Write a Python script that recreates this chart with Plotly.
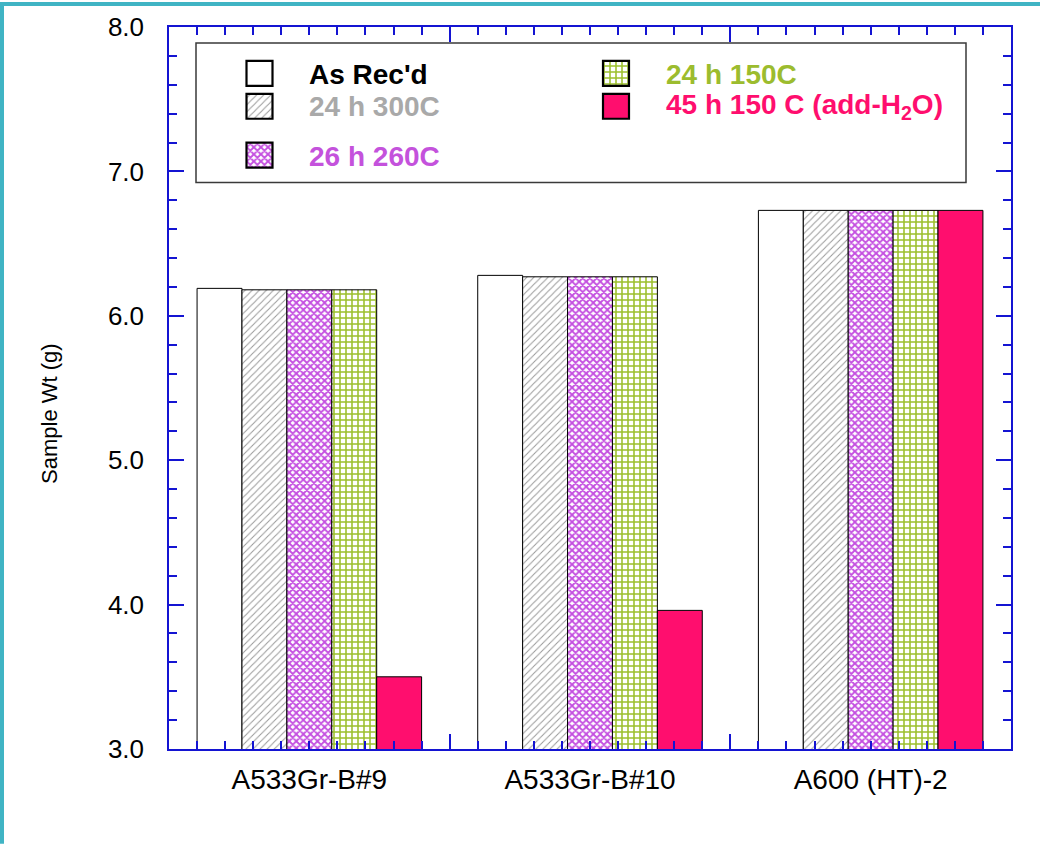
import plotly.graph_objects as go

# ---- data ----
categories = ["A533Gr-B#9", "A533Gr-B#10", "A600 (HT)-2"]
series_names = ["As Rec'd", "24 h 300C", "26 h 260C", "24 h 150C", "45 h 150 C (add-H<sub>2</sub>O)"]
as_recd = [6.19, 6.28, 6.73]
h24_300c = [6.18, 6.27, 6.73]
h26_260c = [6.18, 6.27, 6.73]
h24_150c = [6.18, 6.27, 6.73]
h45_150c_h2o = [3.50, 3.96, 6.73]
y_ticks = [3.0, 4.0, 5.0, 6.0, 7.0, 8.0]

# ---- styling ----
FONT = "Arial, Liberation Sans, sans-serif"
AXIS_BLUE = "#1414d2"
TEAL = "#40b4c4"
styles = [
    dict(color="#ffffff", shape="", fg="#ffffff", text="#000000", size=6, solid=0.3),
    dict(color="#ffffff", shape="/", fg="#9a9a9a", text="#a9a9a9", size=5, solid=0.2),
    dict(color="#ffffff", shape="x", fg="#c44ee0", text="#c452dc", size=5, solid=0.6),
    dict(color="#ffffff", shape="+", fg="#9cbf2c", text="#9cbc2e", size=6, solid=0.45),
    dict(color="#ff0e6e", shape="", fg="#ff0e6e", text="#ff0e6e", size=6, solid=0.3),
]


def marker_for(st, line_width):
    if st["shape"]:
        pattern = dict(shape=st["shape"], fgcolor=st["fg"], bgcolor="#ffffff",
                       size=st["size"], solidity=st["solid"], fillmode="replace")
    else:
        pattern = dict(shape="")
    return dict(color=st["color"], pattern=pattern,
                line=dict(color="#000000", width=line_width))


# pixel geometry of the plotting area
W, H = 1040, 844
L, R, T, B = 169, 1011, 25, 749
PW, PH = R - L, B - T

values = [as_recd, h24_300c, h26_260c, h24_150c, h45_150c_h2o]
x_pos = list(range(len(categories)))

fig = go.Figure()
for name, vals, st in zip(series_names, values, styles):
    fig.add_trace(go.Bar(
        x=x_pos, y=vals, name=name, showlegend=False,
        marker=marker_for(st, 1), xaxis="x", yaxis="y",
    ))

# long ticks at category boundaries (overlay axis sharing the x scale)
fig.add_trace(go.Scatter(x=[0], y=[3], mode="markers", marker=dict(opacity=0),
                         showlegend=False, hoverinfo="skip", xaxis="x3", yaxis="y"))

# ---- legend drawn in pixel space on an overlay axis pair ----
LX = lambda px: px - L
LY = lambda py: py - T
sw_x = [LX(246.5), LX(246.5), LX(246.5), LX(603), LX(603)]
sw_y0 = [LY(59), LY(92), LY(141), LY(59), LY(92)]
SW_W, SW_H = 26, 25
for st, sx, sy in zip(styles, sw_x, sw_y0):
    fig.add_trace(go.Bar(
        x=[sx], y=[SW_H], base=[sy], width=SW_W, offset=0,
        marker=marker_for(st, 2.2),
        showlegend=False, hoverinfo="skip", xaxis="x4", yaxis="y4",
    ))

txt_x = [LX(307), LX(307), LX(307), LX(664), LX(664)]
txt_y = [LY(72.5), LY(105), LY(154.5), LY(72.5), LY(105)]
annotations = []
for name, st, tx, ty in zip(series_names, styles, txt_x, txt_y):
    annotations.append(dict(
        x=tx, y=ty, xref="x4", yref="y4", xanchor="left", yanchor="middle",
        text=f"<b>{name}</b>", showarrow=False,
        font=dict(family=FONT, size=28, color=st["text"]),
    ))

# y-axis title
annotations.append(dict(
    x=(50 - L) / PW, y=(B - 413) / PH, xref="paper", yref="paper",
    text="Sample Wt (g)", textangle=-90, showarrow=False,
    xanchor="center", yanchor="middle",
    font=dict(family=FONT, size=22, color="#000000"),
))

shapes = [
    # legend frame
    dict(type="rect", xref="x4", yref="y4", x0=LX(196), x1=LX(966), y0=LY(41), y1=LY(181),
         line=dict(color="#3a3a3a", width=1.5), fillcolor="rgba(0,0,0,0)", layer="above"),
    # teal page border (left and top)
    dict(type="rect", xref="paper", yref="paper", x0=(0 - L) / PW, x1=(4 - L) / PW,
         y0=(B - H) / PH, y1=B / PH, line=dict(width=0), fillcolor=TEAL),
    dict(type="rect", xref="paper", yref="paper", x0=(0 - L) / PW, x1=(W - L) / PW,
         y0=(B - 4) / PH, y1=B / PH, line=dict(width=0), fillcolor=TEAL),
]

fig.update_layout(
    width=W, height=H,
    margin=dict(l=L, r=W - R, t=T, b=H - B, pad=0),
    paper_bgcolor="#ffffff", plot_bgcolor="#ffffff",
    barmode="group", bargap=0.2, bargroupgap=0,
    showlegend=False,
    font=dict(family=FONT, color="#000000"),
    xaxis=dict(
        range=[-0.5, 2.5], tickmode="array", tickvals=x_pos, ticktext=categories,
        ticks="inside", ticklen=8, tickwidth=1.5, tickcolor=AXIS_BLUE,
        showline=True, linecolor=AXIS_BLUE, linewidth=1.5, mirror="ticks",
        showgrid=False, zeroline=False,
        tickfont=dict(family=FONT, size=28, color="#000000"), ticklabelstandoff=5,
        minor=dict(tickmode="linear", tick0=-0.5, dtick=0.1, ticks="inside", ticklen=8,
                   tickwidth=1.5, tickcolor=AXIS_BLUE, showgrid=False),
    ),
    xaxis3=dict(
        overlaying="x", matches="x", anchor="y", side="bottom",
        tickmode="array", tickvals=[0.5, 1.5], ticks="inside", ticklen=15, tickwidth=1.5,
        tickcolor=AXIS_BLUE, showticklabels=False, showline=False, mirror="ticks",
        showgrid=False, zeroline=False,
    ),
    yaxis=dict(
        range=[3, 8], tickmode="array", tickvals=y_ticks, tickformat=".1f",
        ticks="inside", ticklen=15, tickwidth=1.5, tickcolor=AXIS_BLUE,
        showline=True, linecolor=AXIS_BLUE, linewidth=1.5, mirror="ticks",
        showgrid=False, zeroline=False,
        tickfont=dict(family=FONT, size=26, color="#000000"), ticklabelstandoff=18,
        minor=dict(tickmode="linear", tick0=3, dtick=0.2, ticks="inside", ticklen=8,
                   tickwidth=1.5, tickcolor=AXIS_BLUE, showgrid=False),
    ),
    xaxis4=dict(overlaying="x", anchor="y4", range=[0, PW], visible=False, fixedrange=True),
    yaxis4=dict(overlaying="y", anchor="x4", range=[PH, 0], visible=False, fixedrange=True),
    annotations=annotations,
    shapes=shapes,
)

fig.write_html("out.html")
